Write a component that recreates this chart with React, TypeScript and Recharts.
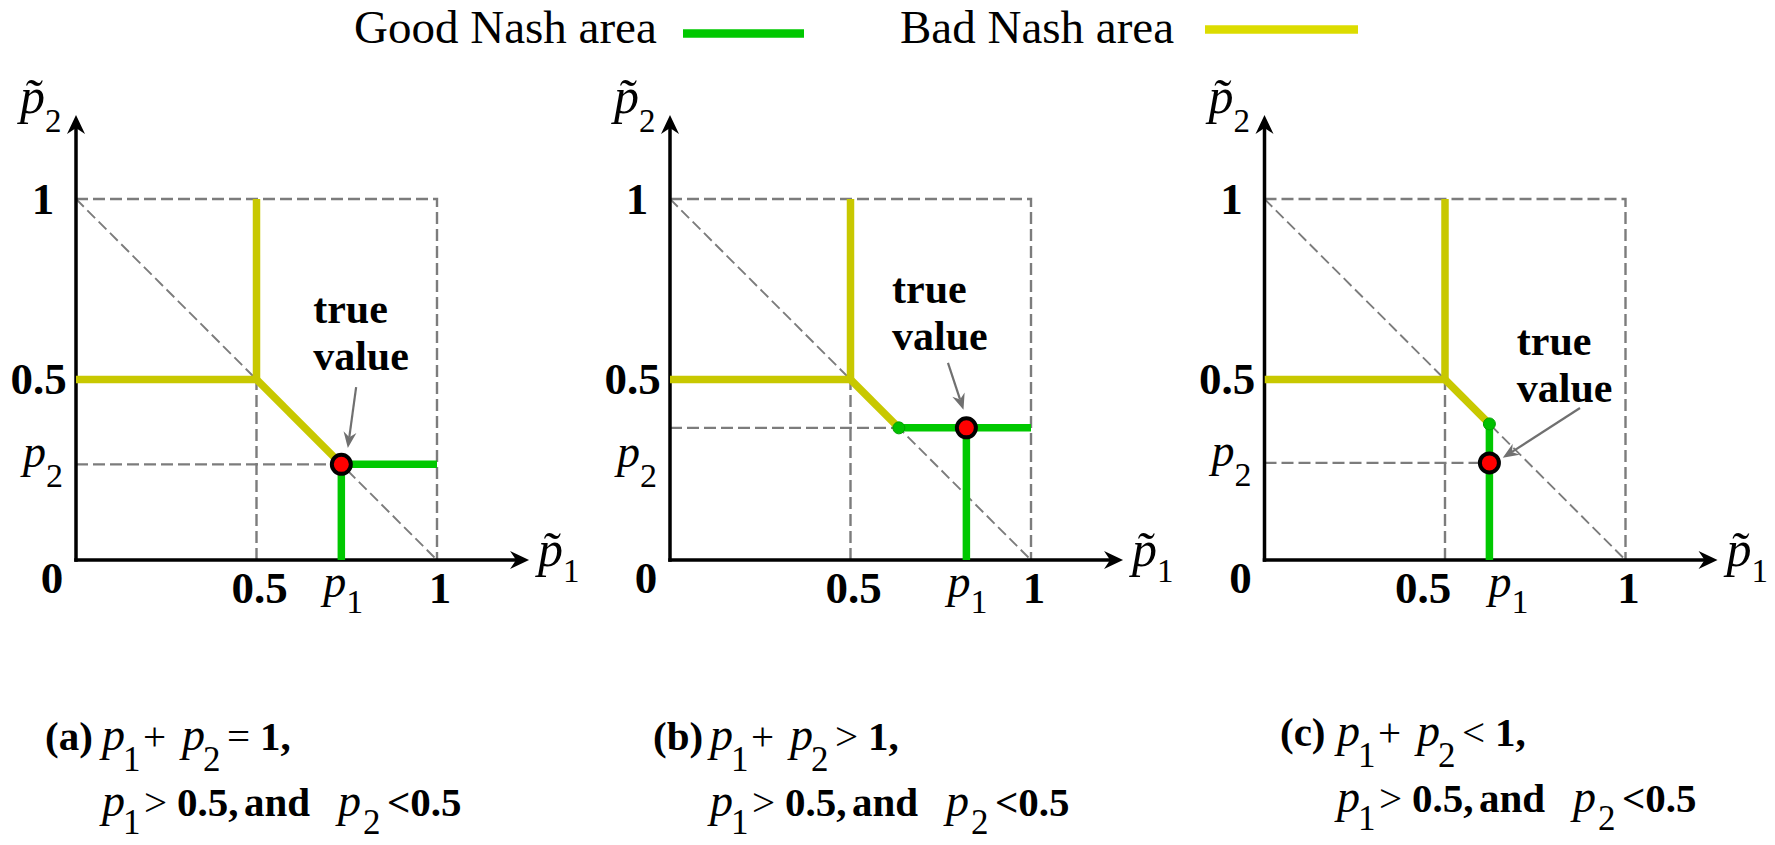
import React from "react";
import {
  ComposedChart,
  Line,
  Scatter,
  XAxis,
  YAxis,
  ReferenceLine,
  ReferenceDot,
} from "recharts";

// ---------------- data ----------------
const trueP1 = [0.735, 0.821, 0.623];
const trueP2 = [0.265, 0.366, 0.269];

const badBranch = [
  { x: 0, y: 0.5 },
  { x: 0.5, y: 0.5 },
  { x: 0.5, y: 1 },
];
const badDiagA = [
  { x: 0.5, y: 0.5 },
  { x: 0.735, y: 0.265 },
];
const badDiagB = [
  { x: 0.5, y: 0.5 },
  { x: 0.634, y: 0.366 },
];
const badDiagC = [
  { x: 0.5, y: 0.5 },
  { x: 0.623, y: 0.377 },
];

const goodA1 = [
  { x: 0.735, y: 0 },
  { x: 0.735, y: 0.265 },
  { x: 1, y: 0.265 },
];
const goodB1 = [
  { x: 0.634, y: 0.366 },
  { x: 1, y: 0.366 },
];
const goodB2 = [
  { x: 0.821, y: 0 },
  { x: 0.821, y: 0.366 },
];
const goodC1 = [
  { x: 0.623, y: 0 },
  { x: 0.623, y: 0.377 },
];

const boxOutline = [
  { x: 0, y: 1 },
  { x: 1, y: 1 },
  { x: 1, y: 0 },
];
const sumOneLine = [
  { x: 0, y: 1 },
  { x: 1, y: 0 },
];
const halfGuide = [
  { x: 0.5, y: 0 },
  { x: 0.5, y: 0.5 },
];
const p2GuideA = [
  { x: 0, y: 0.265 },
  { x: 0.735, y: 0.265 },
];
const p2GuideB = [
  { x: 0, y: 0.366 },
  { x: 0.634, y: 0.366 },
];
const p2GuideC = [
  { x: 0, y: 0.269 },
  { x: 0.623, y: 0.269 },
];

const switchPointB = [{ x: 0.634, y: 0.366 }];
const switchPointC = [{ x: 0.623, y: 0.377 }];

const xTickValues = [
  [0.5, 0.735, 1],
  [0.5, 0.821, 1],
  [0.5, 0.623, 1],
];
const xTickLabels = ["0.5", "p_1", "1"];
const yTickValues = [
  [0, 0.265, 0.5, 1],
  [0, 0.265, 0.5, 1],
  [0, 0.269, 0.5, 1],
];
const yTickLabels = ["0", "p_2", "0.5", "1"];

const xAxisSegment = [
  { x: 0, y: 0 },
  { x: 1.255, y: 0 },
];
const yAxisSegment = [
  { x: 0, y: 0 },
  { x: 0, y: 1.233 },
];
const axisTitles = ["p\u0303_1", "p\u0303_2"];

const annotationLines = ["true", "value"];
const annotationAnchor = [
  { x: 0.657, y: 0.657 },
  { x: 0.615, y: 0.712 },
  { x: 0.699, y: 0.568 },
];
const annotationArrow = [
  [
    { x: 0.776, y: 0.479 },
    { x: 0.753, y: 0.31 },
  ],
  [
    { x: 0.77, y: 0.546 },
    { x: 0.813, y: 0.416 },
  ],
  [
    { x: 0.874, y: 0.421 },
    { x: 0.66, y: 0.283 },
  ],
];

const legendLabels = ["Good Nash area", "Bad Nash area"];
const captionLetters = ["(a)", "(b)", "(c)"];
const captionRelations = ["=", ">", "<"];

// ---------------- styles / layout ----------------
const FONT = '"Liberation Serif", "Times New Roman", Times, serif';
const GOOD_COLOR = "#00c800";
const BAD_COLOR = "#c8c800";
const LEGEND_BAD_COLOR = "#dcdc00";
const GUIDE_COLOR = "#7c7c7c";
const ARROW_COLOR = "#707070";

const PANEL_LEFT = [0, 594, 1188];
const PANEL_WIDTH = [594, 594, 587];
const ORIGIN_X = [76, 76, 76.5];
const UNIT = 361;
const DOMAIN_MAX = 1.3;
const AXIS_Y = 560;
const CHART_H = 845;

const X_TICK_DX = [
  [3, 2, 3],
  [3, 1, 3],
  [-22, 19, 3],
];

const PANELS = [
  {
    bad: [badBranch, badDiagA],
    good: [goodA1],
    p2Guide: p2GuideA,
    switchPoint: null as null | { x: number; y: number }[],
  },
  { bad: [badBranch, badDiagB], good: [goodB1, goodB2], p2Guide: p2GuideB, switchPoint: switchPointB },
  { bad: [badBranch, badDiagC], good: [goodC1], p2Guide: p2GuideC, switchPoint: switchPointC },
];

function mathText(
  x: number,
  y: number,
  label: string,
  anchor: string,
  size: number,
  subSize: number,
  subDy: number
) {
  if (label.includes("_")) {
    const [base, sub] = label.split("_");
    return (
      <text x={x} y={y} textAnchor={anchor} fontFamily={FONT} fontSize={size} fill="#000">
        <tspan fontStyle="italic">{base}</tspan>
        <tspan fontSize={subSize} dy={subDy}>
          {sub}
        </tspan>
      </text>
    );
  }
  return (
    <text x={x} y={y} textAnchor={anchor} fontFamily={FONT} fontSize={size} fontWeight="bold" fill="#000">
      {label}
    </text>
  );
}

const xTickShape = (props: any, p: number, i: number) => {
  const { cx, cy } = props;
  const label = xTickLabels[i];
  const dx = X_TICK_DX[p][i];
  if (label.includes("_")) return mathText(cx + dx, cy + 37, label, "middle", 46, 34, 16);
  return mathText(cx + dx, cy + 43, label, "middle", 45, 34, 0);
};

const yTickShape = (props: any, i: number) => {
  const { cx, cy } = props;
  const label = yTickLabels[i];
  if (label === "0") return mathText(cx - 24, cy + 33, label, "middle", 45, 34, 0);
  if (label.includes("_")) return mathText(cx - 53, cy + 3, label, "start", 46, 34, 20);
  if (label === "0.5") return mathText(cx - 37.5, cy + 14, label, "middle", 45, 34, 0);
  return mathText(cx - 33, cy + 15, label, "middle", 45, 34, 0);
};

const arrowHead = (tx: number, ty: number, ang: number, L: number, H: number, N: number) => {
  const c = Math.cos(ang);
  const s = Math.sin(ang);
  const bx = tx - L * c;
  const by = ty - L * s;
  const nx = tx - N * c;
  const ny = ty - N * s;
  return `M${tx},${ty} L${bx - H * s},${by + H * c} L${nx},${ny} L${bx + H * s},${by - H * c} Z`;
};

const XAxisArrow = (props: any) => {
  const { x1, y1, x2, y2 } = props;
  return (
    <g>
      <line x1={x1 - 1.75} y1={y1} x2={x2 - 10} y2={y2} stroke="#000" strokeWidth={3.5} />
      <path d={arrowHead(x2, y2, 0, 19, 9, 13)} fill="#000" />
      {mathText(x2 + 9, y2 + 6, axisTitles[0], "start", 50, 33, 16)}
    </g>
  );
};

const YAxisArrow = (props: any) => {
  const { x1, y1, x2, y2 } = props;
  return (
    <g>
      <line x1={x1} y1={y1 + 1.75} x2={x2} y2={y2 + 10} stroke="#000" strokeWidth={3.5} />
      <path d={arrowHead(x2, y2, -Math.PI / 2, 19, 9, 13)} fill="#000" />
      {mathText(x2 - 56, y2 - 2, axisTitles[1], "start", 50, 33, 19)}
    </g>
  );
};

const AnnotationArrow = (props: any) => {
  const { x1, y1, x2, y2 } = props;
  const ang = Math.atan2(y2 - y1, x2 - x1);
  const N = 11;
  return (
    <g>
      <line
        x1={x1}
        y1={y1}
        x2={x2 - N * Math.cos(ang)}
        y2={y2 - N * Math.sin(ang)}
        stroke={ARROW_COLOR}
        strokeWidth={2.2}
      />
      <path d={arrowHead(x2, y2, ang, 16, 6.5, 11)} fill={ARROW_COLOR} />
    </g>
  );
};

const AnnotationText = (props: any) => {
  const { cx, cy } = props;
  return (
    <g>
      <text x={cx} y={cy} fontFamily={FONT} fontSize={42} fontWeight="bold" fill="#000">
        {annotationLines[0]}
      </text>
      <text x={cx} y={cy + 47} fontFamily={FONT} fontSize={42} fontWeight="bold" fill="#000">
        {annotationLines[1]}
      </text>
    </g>
  );
};

const RedDot = (props: any) => {
  const { cx, cy } = props;
  return <circle cx={cx} cy={cy} r={9.5} fill="#ff0000" stroke="#000" strokeWidth={4} />;
};

const SwitchDot = (props: any) => {
  const { cx, cy } = props;
  return <circle cx={cx} cy={cy} r={6} fill="#00c000" stroke="#00a000" strokeWidth={1} />;
};

function PanelChart({ p }: { p: number }) {
  const left = ORIGIN_X[p];
  const plot = DOMAIN_MAX * UNIT;
  const margin = {
    left,
    right: PANEL_WIDTH[p] - left - plot,
    top: AXIS_Y - plot,
    bottom: CHART_H - AXIS_Y,
  };
  const cfg = PANELS[p];
  const guides = [boxOutline, halfGuide, cfg.p2Guide];
  return (
    <div style={{ position: "absolute", left: PANEL_LEFT[p], top: 0 }}>
      <ComposedChart width={PANEL_WIDTH[p]} height={CHART_H} margin={margin}>
        <XAxis type="number" dataKey="x" domain={[0, DOMAIN_MAX]} allowDataOverflow hide />
        <YAxis type="number" dataKey="y" domain={[0, DOMAIN_MAX]} allowDataOverflow hide />
        {guides.map((g, i) => (
          <Line
            key={"guide" + i}
            data={g}
            dataKey="y"
            type="linear"
            stroke={GUIDE_COLOR}
            strokeWidth={2.4}
            strokeDasharray="12 5"
            dot={false}
            activeDot={false}
            isAnimationActive={false}
            legendType="none"
          />
        ))}
        <Line
          data={sumOneLine}
          dataKey="y"
          type="linear"
          stroke={GUIDE_COLOR}
          strokeWidth={1.9}
          strokeDasharray="11 5"
          dot={false}
          activeDot={false}
          isAnimationActive={false}
          legendType="none"
        />
        <ReferenceLine segment={xAxisSegment} ifOverflow="visible" shape={XAxisArrow} />
        <ReferenceLine segment={yAxisSegment} ifOverflow="visible" shape={YAxisArrow} />
        {xTickValues[p].map((v, i) => (
          <ReferenceDot
            key={"xt" + i}
            x={v}
            y={0}
            ifOverflow="visible"
            shape={(props: any) => xTickShape(props, p, i)}
          />
        ))}
        {yTickValues[p].map((v, i) => (
          <ReferenceDot
            key={"yt" + i}
            x={0}
            y={v}
            ifOverflow="visible"
            shape={(props: any) => yTickShape(props, i)}
          />
        ))}
        {cfg.bad.map((d, i) => (
          <Line
            key={"bad" + i}
            name="Bad Nash area"
            data={d}
            dataKey="y"
            type="linear"
            stroke={BAD_COLOR}
            strokeWidth={7.5}
            dot={false}
            activeDot={false}
            isAnimationActive={false}
          />
        ))}
        {cfg.good.map((d, i) => (
          <Line
            key={"good" + i}
            name="Good Nash area"
            data={d}
            dataKey="y"
            type="linear"
            stroke={GOOD_COLOR}
            strokeWidth={7.5}
            dot={false}
            activeDot={false}
            isAnimationActive={false}
          />
        ))}
        {cfg.switchPoint && (
          <Scatter data={cfg.switchPoint} dataKey="y" shape={SwitchDot} isAnimationActive={false} />
        )}
        <ReferenceLine segment={annotationArrow[p]} ifOverflow="visible" shape={AnnotationArrow} />
        <Scatter
          data={[{ x: trueP1[p], y: trueP2[p] }]}
          dataKey="y"
          shape={RedDot}
          isAnimationActive={false}
        />
        <ReferenceDot
          x={annotationAnchor[p].x}
          y={annotationAnchor[p].y}
          ifOverflow="visible"
          shape={AnnotationText}
        />
      </ComposedChart>
    </div>
  );
}

const CAPTION_X = [45, 653, 1280];
const CAPTION_Y1 = [750, 750, 746];

function Captions() {
  const out: any[] = [];
  for (let p = 0; p < 3; p++) {
    const x0 = CAPTION_X[p];
    const yA = CAPTION_Y1[p];
    const yB = yA + 66;
    const line1: [string, number, string][] = [
      [captionLetters[p], 0, "b"],
      ["p", 57, "i"],
      ["1", 78, "s"],
      ["+", 98, "o"],
      ["p", 137, "i"],
      ["2", 158, "s"],
      [captionRelations[p], 182, "o"],
      ["1,", 215, "b"],
    ];
    const line2: [string, number, string][] = [
      ["p", 57, "i"],
      ["1", 78, "s"],
      [">", 99, "o"],
      ["0.5,", 132, "b"],
      ["and", 199, "b"],
      ["p", 293, "i"],
      ["2", 318, "s"],
      ["<0.5", 342, "b"],
    ];
    const draw = (segs: [string, number, string][], y: number, subDy: number, lk: string) =>
      segs.map(([t, dx, k], j) => (
        <text
          key={lk + j}
          x={x0 + dx}
          y={k === "s" ? y + subDy : y}
          fontFamily={FONT}
          fontSize={k === "s" ? 35 : k === "i" ? 46 : 41}
          fontStyle={k === "i" ? "italic" : "normal"}
          fontWeight={k === "b" ? "bold" : "normal"}
          fill="#000"
        >
          {t}
        </text>
      ));
    out.push(...draw(line1, yA, 21, "c" + p + "a"), ...draw(line2, yB, 18, "c" + p + "b"));
  }
  return <>{out}</>;
}

export default function App() {
  return (
    <div
      style={{
        position: "absolute",
        left: 0,
        top: 0,
        width: 1775,
        height: 845,
        overflow: "hidden",
        background: "#fff",
      }}
    >
      {[0, 1, 2].map((p) => (
        <PanelChart key={p} p={p} />
      ))}
      <svg
        width={1775}
        height={845}
        style={{ position: "absolute", left: 0, top: 0, pointerEvents: "none" }}
      >
        <text x={354} y={43} fontFamily={FONT} fontSize={47} fill="#000">
          {legendLabels[0]}
        </text>
        <line x1={683} x2={804} y1={33.5} y2={33.5} stroke={GOOD_COLOR} strokeWidth={8.5} />
        <text x={900} y={43} fontFamily={FONT} fontSize={47} fill="#000">
          {legendLabels[1]}
        </text>
        <line x1={1205} x2={1358} y1={29.5} y2={29.5} stroke={LEGEND_BAD_COLOR} strokeWidth={8.7} />
        <Captions />
      </svg>
    </div>
  );
}
